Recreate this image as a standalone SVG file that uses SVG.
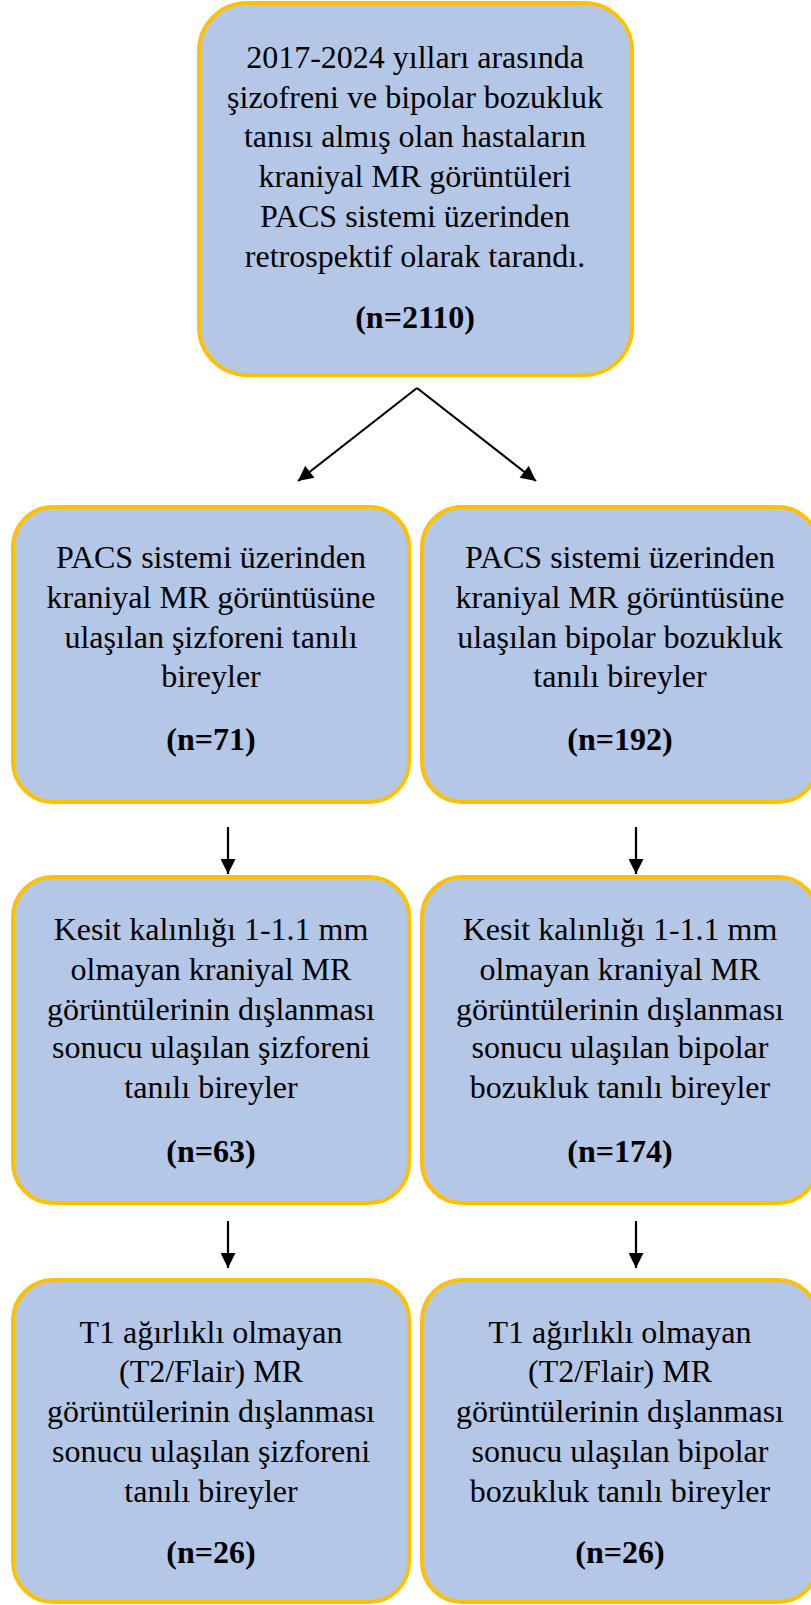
<svg xmlns="http://www.w3.org/2000/svg" width="811" height="1605" viewBox="0 0 811 1605">
<style>
.box{fill:#B4C7E7;stroke:#FFC000;stroke-width:4}
.t{font-family:"Liberation Serif","Times New Roman",serif;font-size:32px;fill:#000;text-anchor:middle}
.b{font-weight:bold}
.c{stroke:#000;stroke-width:2.2;fill:none}
</style>
<defs>
<marker id="ah" viewBox="0 0 10 10" refX="10" refY="5" markerUnits="userSpaceOnUse" markerWidth="16" markerHeight="15" orient="auto">
<path d="M0,0 L10,5 L0,10 Z" fill="#000"/>
</marker>
</defs>
<rect width="811" height="1605" fill="#fff"/>
<g id="connectors">
<line class="c" x1="417" y1="388" x2="298" y2="481" marker-end="url(#ah)"/>
<line class="c" x1="417" y1="388" x2="536" y2="481" marker-end="url(#ah)"/>
<line class="c" x1="228" y1="827" x2="228" y2="874" marker-end="url(#ah)"/>
<line class="c" x1="636" y1="827" x2="636" y2="874" marker-end="url(#ah)"/>
<line class="c" x1="228" y1="1221" x2="228" y2="1268" marker-end="url(#ah)"/>
<line class="c" x1="636" y1="1221" x2="636" y2="1268" marker-end="url(#ah)"/>
</g>
<g id="n0">
<rect class="box" x="199" y="3" width="433" height="372" rx="48"/>
<text class="t" x="415" y="68">2017-2024 yılları arasında</text>
<text class="t" x="415" y="108">şizofreni ve bipolar bozukluk</text>
<text class="t" x="415" y="147">tanısı almış olan hastaların</text>
<text class="t" x="415" y="187">kraniyal MR görüntüleri</text>
<text class="t" x="415" y="227">PACS sistemi üzerinden</text>
<text class="t" x="415" y="267">retrospektif olarak tarandı.</text>
<text class="t b" x="415" y="328">(n=2110)</text>
</g>
<g id="n1">
<rect class="box" x="13" y="507" width="396" height="295" rx="40"/>
<text class="t" x="211" y="568">PACS sistemi üzerinden</text>
<text class="t" x="211" y="608">kraniyal MR görüntüsüne</text>
<text class="t" x="211" y="648">ulaşılan şizforeni tanılı</text>
<text class="t" x="211" y="687">bireyler</text>
<text class="t b" x="211" y="750">(n=71)</text>
</g>
<g id="n2">
<rect class="box" x="422" y="507" width="396" height="295" rx="40"/>
<text class="t" x="620" y="568">PACS sistemi üzerinden</text>
<text class="t" x="620" y="608">kraniyal MR görüntüsüne</text>
<text class="t" x="620" y="648">ulaşılan bipolar bozukluk</text>
<text class="t" x="620" y="687">tanılı bireyler</text>
<text class="t b" x="620" y="750">(n=192)</text>
</g>
<g id="n3">
<rect class="box" x="13" y="877" width="396" height="326" rx="40"/>
<text class="t" x="211" y="940">Kesit kalınlığı 1-1.1 mm</text>
<text class="t" x="211" y="980">olmayan kraniyal MR</text>
<text class="t" x="211" y="1020">görüntülerinin dışlanması</text>
<text class="t" x="211" y="1058">sonucu ulaşılan şizforeni</text>
<text class="t" x="211" y="1098">tanılı bireyler</text>
<text class="t b" x="211" y="1162">(n=63)</text>
</g>
<g id="n4">
<rect class="box" x="422" y="877" width="396" height="326" rx="40"/>
<text class="t" x="620" y="940">Kesit kalınlığı 1-1.1 mm</text>
<text class="t" x="620" y="980">olmayan kraniyal MR</text>
<text class="t" x="620" y="1020">görüntülerinin dışlanması</text>
<text class="t" x="620" y="1058">sonucu ulaşılan bipolar</text>
<text class="t" x="620" y="1098">bozukluk tanılı bireyler</text>
<text class="t b" x="620" y="1162">(n=174)</text>
</g>
<g id="n5">
<rect class="box" x="13" y="1280" width="396" height="322" rx="40"/>
<text class="t" x="211" y="1343">T1 ağırlıklı olmayan</text>
<text class="t" x="211" y="1382">(T2/Flair) MR</text>
<text class="t" x="211" y="1422">görüntülerinin dışlanması</text>
<text class="t" x="211" y="1462">sonucu ulaşılan şizforeni</text>
<text class="t" x="211" y="1502">tanılı bireyler</text>
<text class="t b" x="211" y="1563">(n=26)</text>
</g>
<g id="n6">
<rect class="box" x="422" y="1280" width="396" height="322" rx="40"/>
<text class="t" x="620" y="1343">T1 ağırlıklı olmayan</text>
<text class="t" x="620" y="1382">(T2/Flair) MR</text>
<text class="t" x="620" y="1422">görüntülerinin dışlanması</text>
<text class="t" x="620" y="1462">sonucu ulaşılan bipolar</text>
<text class="t" x="620" y="1502">bozukluk tanılı bireyler</text>
<text class="t b" x="620" y="1563">(n=26)</text>
</g>
</svg>
